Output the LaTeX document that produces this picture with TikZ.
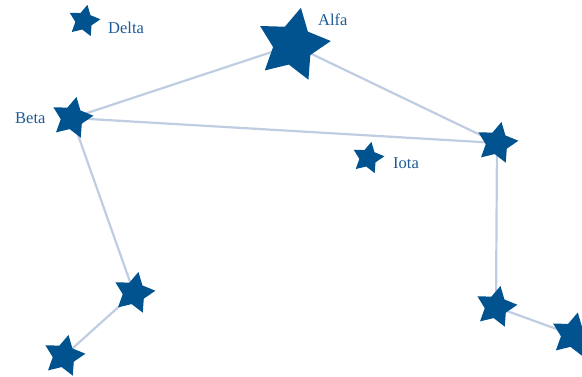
\documentclass[tikz,border=0pt]{standalone}
\usepackage{fontspec}
\setmainfont{Liberation Serif}
\usetikzlibrary{shapes.geometric}
\definecolor{starblue}{RGB}{0,83,143}
\definecolor{textblue}{RGB}{30,90,150}
\definecolor{linkblue}{RGB}{190,205,225}
\tikzset{
  starnode/.style={star, star points=5, star point ratio=1.9, fill=starblue, draw=none,
    inner sep=0pt, shape border rotate=-12},
  smallstar/.style={starnode, minimum size=33pt},
  midstar/.style={starnode, minimum size=43pt},
  bigstar/.style={starnode, minimum size=76pt},
  link/.style={draw=linkblue, line width=2.2pt},
  lbl/.style={anchor=base west, inner sep=0pt, text=textblue, font=\fontsize{16.5}{18}\selectfont}
}
\begin{document}
\begin{tikzpicture}[x=1pt,y=-1pt]
\useasboundingbox (0,0) rectangle (582,377);
% coordinates of the stars
\coordinate (cAlfa) at (293,45);
\coordinate (cBeta) at (72,118);
\coordinate (cR) at (497,143);
\coordinate (cLL) at (134,293);
\coordinate (cBL) at (64,356);
\coordinate (cLR) at (496,307);
\coordinate (cFR) at (573,335);
% connectors (behind the stars)
\draw[link] (cBeta) -- (cAlfa);
\draw[link] (cAlfa) -- (cR);
\draw[link] (cBeta) -- (cR);
\draw[link] (cBeta) -- (cLL);
\draw[link] (cLL) -- (cBL);
\draw[link] (cR) -- (cLR);
\draw[link] (cLR) -- (cFR);
% stars
\node[smallstar] (delta) at (84,21) {};
\node[bigstar] (alfa) at (cAlfa) {};
\node[midstar] (beta) at (cBeta) {};
\node[midstar] (r) at (cR) {};
\node[smallstar] (iota) at (368,158) {};
\node[midstar] (ll) at (cLL) {};
\node[midstar] (bl) at (cBL) {};
\node[midstar] (lr) at (cLR) {};
\node[midstar, minimum size=46pt] (fr) at (cFR) {};
% labels
\node[lbl] (tdelta) at (108,34) {Delta};
\node[lbl] (talfa) at (318,26) {Alfa};
\node[lbl] (tbeta) at (15,124) {Beta};
\node[lbl] (tiota) at (393,169) {Iota};
\end{tikzpicture}
\end{document}
